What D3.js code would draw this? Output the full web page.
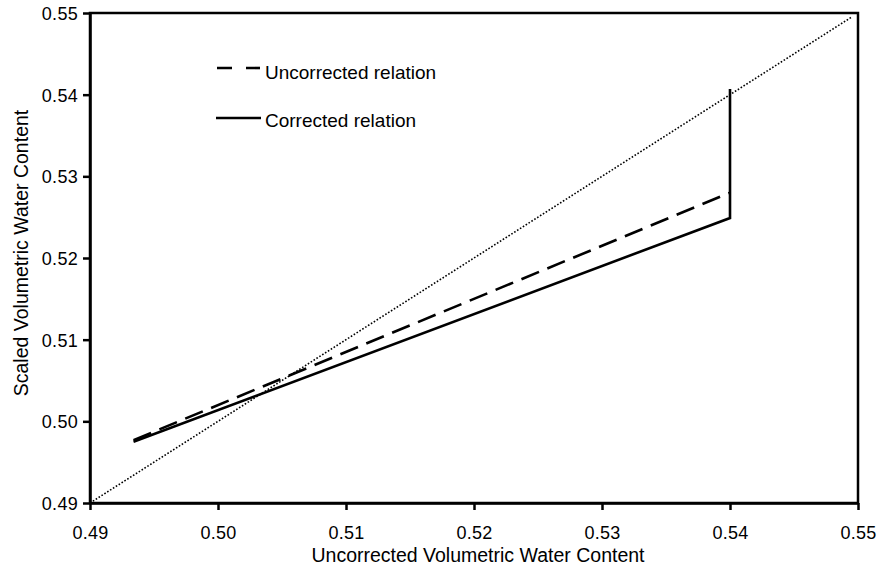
<!DOCTYPE html>
<html>
<head>
<meta charset="utf-8">
<script src="https://cdn.jsdelivr.net/npm/d3@7"></script>
<style>
  body { margin: 0; background: #fff; }
  text { font-family: "Liberation Sans", Arial, sans-serif; fill: #000; }
</style>
</head>
<body>
<svg width="879" height="577"></svg>
<script>
// data
const oneToOneX = [0.49, 0.5495];
const oneToOneY = [0.49, 0.5495];
const uncorrectedX = [0.4934, 0.54];
const uncorrectedY = [0.4977, 0.528];
const correctedX = [0.4934, 0.54, 0.54];
const correctedY = [0.4975, 0.5249, 0.5407];
const tickValues = [0.49, 0.50, 0.51, 0.52, 0.53, 0.54, 0.55];
const legendLabels = ['Uncorrected relation', 'Corrected relation'];

const margin = {left: 90, right: 21, top: 13, bottom: 74};
const width = 879;
const height = 577;

let svg = d3.select('svg');

let xScale = d3.scaleLinear()
    .domain([0.49, 0.55])
    .range([margin.left, width - margin.right]);

let yScale = d3.scaleLinear()
    .domain([0.49, 0.55])
    .range([height - margin.bottom, margin.top]);

function toPoints(xs, ys) {
    return xs.map((x, i) => [x, ys[i]]);
}

let line = d3.line()
    .x(d => xScale(d[0]))
    .y(d => yScale(d[1]));

// frame
svg.append('rect')
    .attr('x', xScale(0.49))
    .attr('y', yScale(0.55))
    .attr('width', xScale(0.55) - xScale(0.49))
    .attr('height', yScale(0.49) - yScale(0.55))
    .attr('fill', 'none')
    .attr('stroke', '#000')
    .attr('stroke-width', 2.5);

// axes
let xAxis = d3.axisBottom(xScale)
    .tickValues(tickValues)
    .tickFormat(d3.format('.2f'))
    .tickSize(7)
    .tickSizeOuter(0);

let yAxis = d3.axisLeft(yScale)
    .tickValues(tickValues)
    .tickFormat(d3.format('.2f'))
    .tickSize(7)
    .tickSizeOuter(0);

let gx = svg.append('g')
    .attr('transform', 'translate(0,' + yScale(0.49) + ')')
    .call(xAxis);

let gy = svg.append('g')
    .attr('transform', 'translate(' + xScale(0.49) + ',0)')
    .call(yAxis);

[gx, gy].forEach(g => {
    g.select('.domain').attr('stroke-width', 2.5);
    g.selectAll('.tick line').attr('stroke-width', 2.5);
    g.selectAll('.tick text')
        .style('font-family', '"Liberation Sans", Arial, sans-serif')
        .style('font-size', '18px')
        .style('letter-spacing', '0.3px');
});
gx.selectAll('.tick text').attr('dy', null).attr('y', 36);
gy.selectAll('.tick text').attr('x', -12).attr('dy', '0.36em');

// axis titles
svg.append('text')
    .attr('x', 478)
    .attr('y', 562)
    .attr('text-anchor', 'middle')
    .style('font-size', '19.5px')
    .text('Uncorrected Volumetric Water Content');

svg.append('text')
    .attr('transform', 'translate(28,253) rotate(-90)')
    .attr('text-anchor', 'middle')
    .style('font-size', '19.5px')
    .text('Scaled Volumetric Water Content');

// 1:1 line
svg.append('path')
    .datum(toPoints(oneToOneX, oneToOneY))
    .attr('d', line)
    .attr('fill', 'none')
    .attr('stroke', '#000')
    .attr('stroke-width', 1.6)
    .attr('stroke-dasharray', '1.6,1.8');

// uncorrected relation
svg.append('path')
    .datum(toPoints(uncorrectedX, uncorrectedY))
    .attr('d', line)
    .attr('fill', 'none')
    .attr('stroke', '#000')
    .attr('stroke-width', 2.6)
    .attr('stroke-dasharray', '19,9');

// corrected relation
svg.append('path')
    .datum(toPoints(correctedX, correctedY))
    .attr('d', line)
    .attr('fill', 'none')
    .attr('stroke', '#000')
    .attr('stroke-width', 2.6);

// legend
let legend = svg.append('g');
legend.append('line')
    .attr('x1', 217).attr('x2', 260)
    .attr('y1', 68).attr('y2', 68)
    .attr('stroke', '#000')
    .attr('stroke-width', 2.6)
    .attr('stroke-dasharray', '15,14');
legend.append('line')
    .attr('x1', 216).attr('x2', 261)
    .attr('y1', 118).attr('y2', 118)
    .attr('stroke', '#000')
    .attr('stroke-width', 2.6);
legend.selectAll('text.lab')
    .data(legendLabels)
    .enter()
    .append('text')
    .attr('class', 'lab')
    .attr('x', 265)
    .attr('y', (d, i) => 79 + i * 48)
    .style('font-size', '19px')
    .text(d => d);
</script>
</body>
</html>
